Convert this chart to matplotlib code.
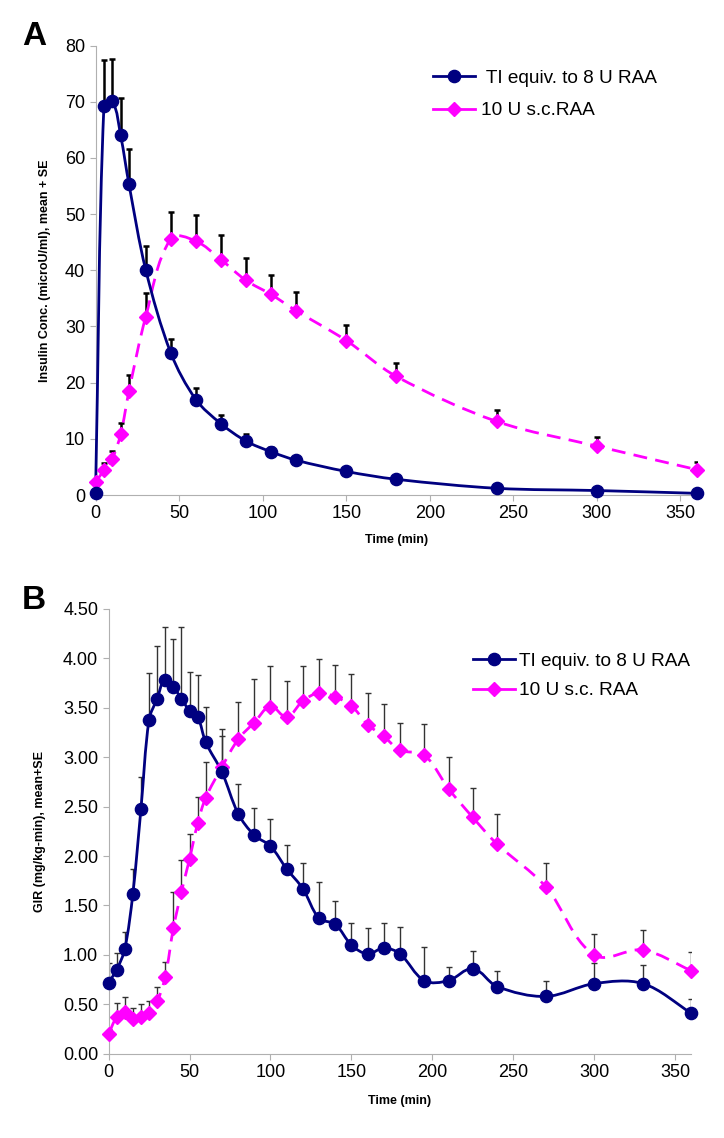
import numpy as np
import matplotlib
matplotlib.use('Agg')
import matplotlib.pyplot as plt
from matplotlib.path import Path
from matplotlib.patches import PathPatch
from matplotlib.lines import Line2D

plt.rcParams['font.family'] = ['Liberation Sans', 'DejaVu Sans']

NAVY = '#000080'
MAGENTA = '#FF00FF'

# ---- Panel A: insulin concentration ----
time_a = [0, 5, 10, 15, 20, 30, 45, 60, 75, 90, 105, 120, 150, 180, 240, 300, 360]
ti_a = [0.4, 69.2, 70.1, 64.0, 55.3, 40.1, 25.3, 17.0, 12.7, 9.6, 7.7, 6.2, 4.2, 2.8, 1.2, 0.8, 0.3]
ti_a_se = [0.0, 8.3, 7.5, 6.7, 6.2, 4.3, 2.4, 2.0, 1.5, 1.2, 0.8, 0.6, 0.3, 0.2, 0.1, 0.1, 0.1]
sc_a = [2.3, 4.4, 6.5, 10.8, 18.5, 31.7, 45.6, 45.2, 41.9, 38.2, 35.7, 32.8, 27.5, 21.1, 13.1, 8.7, 4.5]
sc_a_se = [0.9, 1.3, 1.4, 2.0, 2.9, 4.3, 4.8, 4.6, 4.3, 4.0, 3.4, 3.3, 2.7, 2.4, 2.0, 1.7, 1.4]

# ---- Panel B: glucose infusion rate ----
time_b = [0, 5, 10, 15, 20, 25, 30, 35, 40, 45, 50, 55, 60, 70, 80, 90, 100,
          110, 120, 130, 140, 150, 160, 170, 180, 195, 210, 225, 240, 270, 300, 330, 360]
ti_b = [0.72, 0.85, 1.06, 1.62, 2.48, 3.38, 3.59, 3.78, 3.71, 3.59, 3.47, 3.41, 3.15,
        2.85, 2.43, 2.21, 2.10, 1.87, 1.67, 1.37, 1.31, 1.10, 1.01, 1.07, 1.01,
        0.74, 0.74, 0.86, 0.68, 0.58, 0.71, 0.71, 0.41]
ti_b_se = [0.20, 0.17, 0.17, 0.25, 0.32, 0.47, 0.53, 0.54, 0.48, 0.73, 0.39, 0.42, 0.36,
           0.43, 0.30, 0.28, 0.27, 0.24, 0.26, 0.37, 0.24, 0.22, 0.26, 0.25, 0.27,
           0.34, 0.14, 0.18, 0.16, 0.16, 0.21, 0.19, 0.14]
sc_b = [0.20, 0.37, 0.42, 0.35, 0.37, 0.41, 0.53, 0.78, 1.27, 1.64, 1.97, 2.33, 2.59,
        2.90, 3.18, 3.35, 3.51, 3.41, 3.57, 3.65, 3.61, 3.52, 3.33, 3.21, 3.07,
        3.02, 2.68, 2.39, 2.12, 1.69, 1.00, 1.05, 0.84]
sc_b_se = [0.05, 0.14, 0.15, 0.11, 0.13, 0.12, 0.15, 0.15, 0.37, 0.32, 0.25, 0.27, 0.36,
           0.31, 0.38, 0.44, 0.41, 0.36, 0.35, 0.34, 0.32, 0.32, 0.32, 0.33, 0.28,
           0.32, 0.32, 0.30, 0.30, 0.24, 0.21, 0.20, 0.19]

LABEL_TI = 'TI equiv. to 8 U RAA'
LABEL_SC_A = '10 U s.c.RAA'
LABEL_SC_B = '10 U s.c. RAA'


def smooth_path(ax, x, y, tension=0.33):
    # Excel-style smoothed line, built in screen space so steep jumps don't overshoot
    pts = ax.transData.transform(np.column_stack([x, y]).astype(float))
    n = len(pts)

    def unit(v):
        d = np.hypot(*v)
        return v / d if d > 0 else v

    verts = [pts[0]]
    codes = [Path.MOVETO]
    for i in range(n - 1):
        p0 = pts[i - 1] if i > 0 else pts[i]
        p1 = pts[i]
        p2 = pts[i + 1]
        p3 = pts[i + 2] if i + 2 < n else pts[i + 1]
        seg = np.hypot(*(p2 - p1)) * tension
        verts += [p1 + unit(p2 - p0) * seg, p2 - unit(p3 - p1) * seg, p2]
        codes += [Path.CURVE4] * 3
    verts = ax.transData.inverted().transform(np.array(verts))
    return Path(verts, codes)


def draw_series(ax, x, y, se, color, marker, ms, ls, ecolor, elw, capsize):
    ax.errorbar(x, y, yerr=[np.zeros(len(se)), se], fmt='none', ecolor=ecolor,
                elinewidth=elw, capsize=capsize, capthick=elw, zorder=2)
    patch = PathPatch(smooth_path(ax, x, y), facecolor='none', edgecolor=color,
                      lw=2.0, linestyle=ls, zorder=3, clip_on=False)
    ax.add_patch(patch)
    ax.plot(x, y, linestyle='none', marker=marker, ms=ms, color=color,
            zorder=4, clip_on=False)


def style_axes(ax):
    for s in ['top', 'right']:
        ax.spines[s].set_visible(False)
    for s in ['left', 'bottom']:
        ax.spines[s].set_color('#b0b0b0')
        ax.spines[s].set_linewidth(0.8)
    ax.tick_params(axis='both', colors='#b0b0b0', labelcolor='black',
                   labelsize=13, length=4, width=0.8)


fig = plt.figure(figsize=(7.24, 11.38), dpi=100)

# Panel A
ax1 = fig.add_axes([0.132, 0.565, 0.831, 0.395])
ax1.set_xlim(0, 360)
ax1.set_ylim(0, 80)
draw_series(ax1, time_a, sc_a, sc_a_se, MAGENTA, 'D', 7, (0, (5, 3)), 'black', 1.8, 2.2)
draw_series(ax1, time_a, ti_a, ti_a_se, NAVY, 'o', 8.8, '-', 'black', 1.8, 2.2)
ax1.set_xticks(np.arange(0, 351, 50))
ax1.set_yticks(np.arange(0, 81, 10))
style_axes(ax1)
ax1.set_xlabel('Time (min)', fontsize=9, fontweight='bold', labelpad=8)
ax1.set_ylabel('Insulin Conc. (microU/ml), mean + SE', fontsize=9, fontweight='bold', labelpad=10)
handles_a = [Line2D([], [], color=NAVY, marker='o', ms=8.8, lw=2),
             Line2D([], [], color=MAGENTA, marker='D', ms=7, lw=2)]
fig.legend(handles_a, [' ' + LABEL_TI, LABEL_SC_A], loc='center left',
           bbox_to_anchor=(0.598, 0.917), frameon=False, fontsize=13.7,
           handlelength=2.2, handletextpad=0.3, labelspacing=0.8,
           borderpad=0, borderaxespad=0)
fig.text(0.03, 0.9675, 'A', fontsize=24, fontweight='bold', va='center')

# Panel B
ax2 = fig.add_axes([0.150, 0.074, 0.805, 0.391])
ax2.set_xlim(0, 360)
ax2.set_ylim(0, 4.5)
draw_series(ax2, time_b, sc_b, sc_b_se, MAGENTA, 'D', 7, (0, (5, 3)), '#333333', 1.0, 2)
draw_series(ax2, time_b, ti_b, ti_b_se, NAVY, 'o', 8.8, '-', '#333333', 1.0, 2)
ax2.set_xticks(np.arange(0, 351, 50))
ax2.set_yticks(np.arange(0, 4.51, 0.5))
ax2.set_yticklabels([f'{v:.2f}' for v in np.arange(0, 4.51, 0.5)])
style_axes(ax2)
ax2.set_xlabel('Time (min)', fontsize=9, fontweight='bold', labelpad=10)
ax2.set_ylabel('GIR (mg/kg-min), mean+SE', fontsize=9, fontweight='bold', labelpad=12)
handles_b = [Line2D([], [], color=NAVY, marker='o', ms=8.8, lw=2),
             Line2D([], [], color=MAGENTA, marker='D', ms=7, lw=2)]
fig.legend(handles_b, [LABEL_TI, LABEL_SC_B], loc='center left',
           bbox_to_anchor=(0.653, 0.406), frameon=False, fontsize=13.7,
           handlelength=2.2, handletextpad=0.25, labelspacing=0.62,
           borderpad=0, borderaxespad=0)
fig.text(0.03, 0.472, 'B', fontsize=24, fontweight='bold', va='center')

fig.savefig('out.png', dpi=100)
